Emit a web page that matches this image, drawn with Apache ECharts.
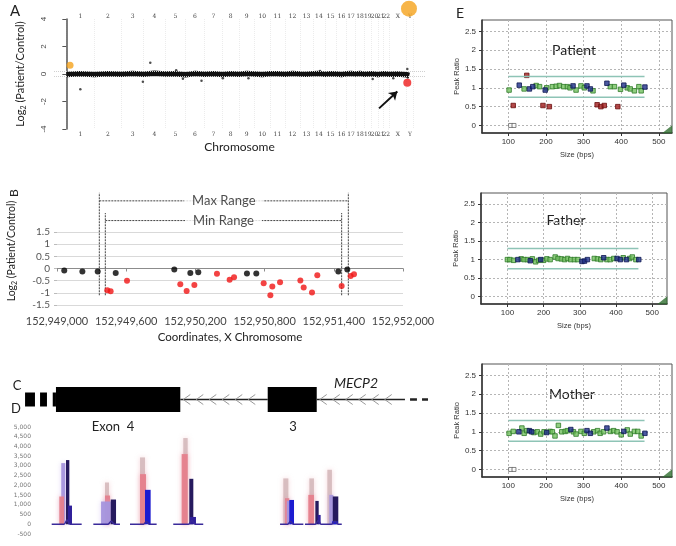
<!DOCTYPE html>
<html>
<head>
<meta charset="utf-8">
<script src="https://cdn.jsdelivr.net/npm/echarts@6/dist/echarts.min.js"></script>
<style>
  html, body { margin: 0; padding: 0; background: #fff; }
  #chart { width: 676px; height: 546px; }
</style>
</head>
<body>
<div id="chart"></div>
<script>
// ---- Panel A: genome-wide log2 ratios (positions in Mb along the genome)
const chromNames = ['1','2','3','4','5','6','7','8','9','10','11','12','13','14','15','16','17','18','19','20','21','22','X','Y'];
const chromSizes = [249.3, 243.2, 198.0, 191.2, 180.9, 171.1, 159.1, 146.4, 141.2, 135.5, 135.0, 133.9, 115.2, 107.3, 102.5, 90.4, 81.2, 78.1, 59.1, 63.0, 48.1, 51.3, 155.3, 59.4];
const genomeBand = [[0,-0.03],[120,0.01],[249,-0.04],[370,0.02],[492,-0.02],[590,0.03],[690,-0.01],[786,0.05],[881,0],[972,0.02],[1062,-0.05],[1150,0.03],[1233,-0.02],[1313,0.01],[1393,-0.03],[1466,0.02],[1539,-0.02],[1610,0.03],[1680,0],[1748,-0.03],[1816,0.02],[1883,0.01],[1951,-0.02],[2018,0.03],[2085,0],[2142,-0.02],[2200,0.02],[2254,0.03],[2307,-0.01],[2358,0.02],[2410,0],[2455,-0.03],[2500,0.02],[2541,0.04],[2581,0],[2620,0.03],[2659,-0.02],[2720,0.01],[2780,-0.03],[2830,0.02],[2881,-0.02],[2958,0],[3036,-0.05],[3060,-0.1]];
const genomeOutliers = [[125,-1.11],[683,-0.56],[749,0.82],[980,0.27],[1040,-0.35],[1206,-0.49],[1396,-0.3],[1625,-0.3],[2264,0.22],[2733,-0.36],[2917,-0.3],[3042,0.36],[3046,-0.25]];
const genomeGain = [[33, 0.63]];
const genomeGainBig = [[3057, 4.75]];
const genomeLoss = [[3042, -0.63]];
const arrowFromTo = [[2790, -2.5], [2953, -1.27]];

// ---- Panel B: probe log2 ratios, X chromosome coordinates
const normalProbes = [[152949063,-0.08],[152949220,-0.125],[152949353,-0.125],[152949509,-0.18],[152950017,-0.04],[152950156,-0.19],[152950225,-0.15],[152950647,-0.21],[152950728,-0.21],[152951439,-0.125],[152951517,-0.04]];
const deletedProbes = [[152949436,-0.89],[152949465,-0.93],[152949607,-0.5],[152950069,-0.65],[152950124,-0.92],[152950191,-0.68],[152950387,-0.22],[152950497,-0.46],[152950535,-0.36],[152950792,-0.61],[152950850,-1.1],[152950867,-0.74],[152950934,-0.56],[152951110,-0.49],[152951139,-0.78],[152951211,-0.99],[152951257,-0.28],[152951468,-0.72],[152951546,-0.31],[152951575,-0.24]];
const maxRange = [152949367, 152951526];
const minRange = [152949419, 152951468];

// ---- Panel C: MECP2 gene model [start, end, kind] kind: 0 small block, 1 exon, 2 intron, 3 dash
const geneParts = [[152948723,152948809,0],[152948853,152948913,0],[152948963,152948991,0],[152948991,152950069,1],[152950069,152950827,2],[152950827,152951252,1],[152951252,152952017,2],[152952061,152952121,3],[152952165,152952217,3]];

// ---- Panel D: read peaks [start, end, height, colour kind]
const peakBars = [
  [152949037,152949072,3144,2],[152949020,152949061,1428,1],[152949078,152949107,3300,3],[152949095,152949130,960,4],
  [152949416,152949451,2148,0],[152949416,152949460,1478,1],[152949382,152949466,1170,2],[152949466,152949512,1273,3],
  [152949720,152949763,3436,0],[152949720,152949772,2577,1],[152949763,152949812,1770,5],
  [152950095,152950133,4433,0],[152950081,152950133,3608,1],[152950147,152950182,2337,3],[152950153,152950205,376,4],
  [152950962,152951006,2357,0],[152950977,152951014,1340,1],[152950994,152951029,1200,2],[152951014,152951055,1250,5],
  [152951188,152951228,2357,0],[152951179,152951228,1510,1],[152951240,152951269,1200,3],[152951260,152951286,480,4],
  [152951344,152951384,2800,0],[152951361,152951396,1510,2],[152951391,152951439,1430,3],[152951384,152951436,150,5]
];
// baseline traces [start, bumpStart, bumpPeakX, bumpEnd, end, bumpHeight]
const peakBaselines = [
  [152948954,152949061,152949087,152949113,152949214,220],
  [152949315,152949440,152949470,152949500,152949546,150],
  [152949633,152949750,152949775,152949800,152949864,150],
  [152950008,152950140,152950170,152950200,152950268,200],
  [152950934,152951000,152951025,152951050,152951136,150],
  [152951150,152951240,152951265,152951290,152951324,200],
  [152951324,152951380,152951410,152951440,152951469,150]
];

// ---- Panel E: MLPA peak ratios vs fragment size (bp)
const patientGreen = [[102,0.94],[142,0.97],[174,1.06],[183,1.03],[202,1.0],[217,1.03],[227,1.04],[236,1.06],[247,1.03],[257,1.03],[264,1.0],[280,0.94],[293,1.05],[302,1.0],[325,0.92],[371,1.03],[382,1.03],[398,0.96],[416,1.0],[424,0.97],[435,0.92],[447,1.03],[453,0.92]];
const patientNavy = [[129,1.07],[156,0.97],[165,1.03],[198,0.94],[272,1.05],[309,1.05],[318,0.97],[362,1.12],[407,1.07],[463,1.02]];
const patientRed = [[113,0.53],[149,1.33],[192,0.53],[209,0.5],[336,0.55],[346,0.5],[355,0.53],[391,0.5]];
const patientCtrl = [[106,0],[115,0]];
const fatherGreen = [[100,1.0],[107,1.0],[117,0.98],[138,1.02],[146,1.0],[155,1.0],[169,1.02],[178,0.94],[186,0.98],[200,0.98],[209,1.02],[218,1.0],[232,1.07],[240,1.03],[249,1.02],[258,1.0],[266,1.03],[275,1.0],[285,1.0],[294,1.0],[340,1.03],[349,1.02],[358,1.0],[375,1.0],[384,1.0],[394,1.03],[420,1.05],[438,1.03],[445,1.07],[455,1.0]];
const fatherNavy = [[129,1.0],[163,0.97],[192,1.0],[306,0.95],[313,0.96],[321,1.0],[366,1.05],[403,1.03],[412,1.0],[429,1.0],[463,1.0]];
const motherGreen = [[102,0.96],[113,1.01],[136,1.1],[142,0.96],[149,1.03],[168,0.98],[177,1.0],[186,0.94],[195,1.0],[211,1.01],[217,1.0],[224,0.89],[233,1.17],[242,1.0],[251,1.01],[257,1.03],[273,1.0],[280,0.94],[293,1.01],[302,0.96],[327,1.0],[337,1.03],[344,0.96],[353,1.0],[371,1.01],[380,1.03],[389,1.0],[400,0.92],[416,1.05],[424,0.94],[435,1.01],[444,1.01],[453,0.89]];
const motherNavy = [[128,1.0],[156,1.03],[162,1.0],[202,0.98],[266,1.06],[309,1.03],[318,0.96],[362,1.1],[407,1.01],[463,0.96]];
const motherCtrl = [[106,0],[115,0]];
const ratioLimits = [1.3, 0.75];
const ratioSpan = [100, 462];
const sizeTicks = [100, 200, 300, 400, 500];
const ratioTicks = [0, 0.5, 1, 1.5, 2, 2.5];

// derived chromosome boundaries / centres
const chromStarts = [];
const chromCenters = [];
let acc = 0;
chromSizes.forEach(s => { chromStarts.push(acc); chromCenters.push(acc + s / 2); acc += s; });
const chromBounds = chromStarts.concat([acc]);
const chromLabel = v => {
  const i = chromCenters.findIndex(c => Math.abs(c - v) < 0.01);
  return i < 0 ? '' : chromNames[i];
};

const sans = 'Lato';
const small = 'Liberation Sans';
const subRich = { s: { fontFamily: sans, fontSize: 7, padding: [6, 0, 0, 0] } };

function renderGene(params, api) {
  const kind = api.value(2);
  const a = api.coord([api.value(0), 0]);
  const b = api.coord([api.value(1), 0]);
  const unit = api.size([0, 1])[1];
  if (kind === 0 || kind === 1) {
    const h = kind === 1 ? 1 : 0.56;
    return { type: 'rect', shape: { x: a[0], y: a[1] - h * unit, width: b[0] - a[0], height: 2 * h * unit }, style: { fill: '#000' } };
  }
  if (kind === 2) {
    const children = [{ type: 'line', shape: { x1: a[0], y1: a[1], x2: b[0], y2: b[1] }, style: { stroke: '#222', lineWidth: 1.5 } }];
    for (let x = a[0] + 3; x + 8 < b[0]; x += 13) {
      children.push({ type: 'polyline', shape: { points: [[x + 7, a[1] - 5], [x, a[1]], [x + 7, a[1] + 5]] }, style: { stroke: '#999', lineWidth: 1, fill: null } });
    }
    return { type: 'group', children };
  }
  return { type: 'line', shape: { x1: a[0], y1: a[1], x2: b[0], y2: b[1] }, style: { stroke: '#222', lineWidth: 2.5 } };
}

const peakColors = [
  { fill: '#d2b6b8', opacity: 0.85, glow: 'rgba(235,170,180,0.6)' },
  { fill: '#e5808c', opacity: 0.95, glow: 'rgba(235,150,165,0.6)' },
  { fill: '#a595dd', opacity: 0.95, glow: 'rgba(190,170,235,0.5)' },
  { fill: '#261a5e', opacity: 1, glow: null },
  { fill: '#30209a', opacity: 1, glow: null },
  { fill: '#1b1bd0', opacity: 1, glow: null }
];
function renderPeak(params, api) {
  const a = api.coord([api.value(0), api.value(2)]);
  const b = api.coord([api.value(1), 0]);
  const c = peakColors[api.value(3)];
  const style = { fill: c.fill, opacity: c.opacity };
  if (c.glow) { style.shadowBlur = 5; style.shadowColor = c.glow; }
  return { type: 'rect', shape: { x: a[0], y: a[1], width: b[0] - a[0], height: b[1] - a[1] }, style };
}

const baselineData = [];
peakBaselines.forEach(b => {
  baselineData.push([b[0], 0], [b[1], 0], [b[2], b[5]], [b[3], 0], [b[4], 0], '-');
});

function rangeLines(r, top, bar) {
  return [[r[0], -1.1], [r[0], top], '-', [r[1], -1.1], [r[1], top], '-', [r[0], bar], [r[1], bar]];
}

// E panel builders
const eGrids = [
  { left: 482, top: 20, width: 190, height: 113 },
  { left: 481, top: 193, width: 186, height: 111 },
  { left: 482, top: 364, width: 190, height: 113 }
];
const eXRange = [[30, 535], [27, 541], [30, 535]];
const eSets = [
  { green: patientGreen, navy: patientNavy, red: patientRed, ctrl: patientCtrl },
  { green: fatherGreen, navy: fatherNavy, red: [], ctrl: [] },
  { green: motherGreen, navy: motherNavy, red: [], ctrl: motherCtrl }
];

const grids = [
  { left: 54, top: 19, width: 371, height: 110 },
  { left: 57, top: 232, width: 346, height: 73 },
  { left: 57, top: 387, width: 346, height: 25 },
  { left: 33, top: 427, width: 370, height: 107 }
].concat(eGrids.map(g => Object.assign({ show: true, borderColor: '#555', borderWidth: 1 }, g)))
 .map(g => Object.assign({ outerBoundsMode: 'none', containLabel: false }, g));

const xAxes = [
  { gridIndex: 0, type: 'value', min: -110, max: 3200, position: 'bottom',
    axisLine: { show: false, onZero: false }, axisTick: { show: false, customValues: chromBounds },
    axisLabel: { customValues: chromCenters, formatter: chromLabel, fontSize: 6, fontFamily: 'DejaVu Serif', color: '#444', margin: 2 },
    splitLine: { show: true, lineStyle: { color: '#ececec', type: 'dotted' } },
    name: 'Chromosome', nameLocation: 'middle', nameGap: 12, nameTextStyle: { fontFamily: sans, fontSize: 12, color: '#222' } },
  { gridIndex: 0, type: 'value', min: -110, max: 3200, position: 'top',
    axisLine: { show: false, onZero: false }, axisTick: { show: false },
    axisLabel: { customValues: chromCenters, formatter: chromLabel, fontSize: 6, fontFamily: 'DejaVu Serif', color: '#444', margin: 0 },
    splitLine: { show: false } },
  { gridIndex: 1, type: 'value', min: 152949000, max: 152952000, interval: 600, position: 'top',
    axisLine: { onZero: true, lineStyle: { color: '#8c8c8c', width: 1 } },
    axisTick: { inside: true, length: 3, lineStyle: { color: '#8c8c8c' } },
    axisLabel: { show: false }, splitLine: { show: false } },
  { gridIndex: 1, type: 'value', min: 152949000, max: 152952000, interval: 600, position: 'bottom',
    axisLine: { show: false, onZero: false }, axisTick: { show: false },
    axisLabel: { formatter: v => v.toLocaleString('en-US'), fontFamily: sans, fontSize: 11, color: '#444', margin: 11 },
    splitLine: { show: false },
    name: 'Coordinates, X Chromosome', nameLocation: 'middle', nameGap: 26, nameTextStyle: { fontFamily: sans, fontSize: 11.5, color: '#222' } },
  { gridIndex: 2, type: 'value', min: 152949000, max: 152952000, show: false },
  { gridIndex: 3, type: 'value', min: 152948792, max: 152952000, show: false }
].concat(eGrids.map((g, i) => ({
  gridIndex: 4 + i, type: 'value', min: eXRange[i][0], max: eXRange[i][1], position: 'bottom',
  axisLine: { onZero: false, lineStyle: { color: '#333', width: 1.5 } },
  axisTick: { customValues: sizeTicks, length: 3, lineStyle: { color: '#333' } },
  axisLabel: { customValues: sizeTicks, fontFamily: small, fontSize: 8, color: '#333', margin: 5 },
  splitLine: { show: true, lineStyle: { color: '#b5b5b5', type: [2, 2] } },
  name: 'Size (bps)', nameLocation: 'middle', nameGap: 18, nameTextStyle: { fontFamily: small, fontSize: 7.5, color: '#333' }
})));

const yAxes = [
  { gridIndex: 0, type: 'value', min: -4, max: 4, interval: 2,
    axisLine: { show: true, lineStyle: { color: '#555', width: 1.5 } },
    axisTick: { show: true, length: 4, lineStyle: { color: '#555' } },
    axisLabel: { rotate: 90, fontSize: 8, color: '#444', margin: 6 },
    splitLine: { show: false },
    name: 'Log{s|2} (Patient/Control)', nameLocation: 'middle', nameGap: 27,
    nameTextStyle: { fontFamily: sans, fontSize: 11, color: '#222', rich: subRich } },
  { gridIndex: 1, type: 'value', min: -1.5, max: 1.5, interval: 0.5,
    axisLine: { show: false }, axisTick: { show: true, length: 3, lineStyle: { color: '#bbb' } },
    axisLabel: { fontFamily: sans, fontSize: 10, color: '#555', margin: 7 },
    splitLine: { lineStyle: { color: '#d9d9d9' } } },
  { gridIndex: 2, type: 'value', min: -1, max: 1, show: false },
  { gridIndex: 3, type: 'value', min: -500, max: 5000, interval: 500,
    axisLine: { show: false }, axisTick: { show: false },
    axisLabel: { formatter: v => v.toLocaleString('en-US'), fontFamily: 'DejaVu Sans', fontSize: 6, color: '#777', margin: 2 },
    splitLine: { show: false } }
].concat(eGrids.map((g, i) => ({
  gridIndex: 4 + i, type: 'value', min: -0.2, max: 2.8,
  axisLine: { onZero: false, lineStyle: { color: '#333', width: 1.5 } },
  axisTick: { customValues: ratioTicks, length: 3, lineStyle: { color: '#333' } },
  axisLabel: { customValues: ratioTicks, fontFamily: small, fontSize: 8, color: '#333', margin: 6 },
  splitLine: { show: true, lineStyle: { color: '#b5b5b5', type: [2, 2] } },
  name: 'Peak Ratio', nameLocation: 'middle', nameGap: 10, nameTextStyle: { fontFamily: small, fontSize: 7.5, color: '#333' }
})));

const series = [
  // A
  { type: 'line', xAxisIndex: 0, yAxisIndex: 0, data: genomeBand, showSymbol: false, lineStyle: { color: '#111', width: 5.5 }, z: 3,
    markLine: { silent: true, symbol: 'none', label: { show: false }, lineStyle: { color: '#d0d0d0', type: 'dotted', width: 1 },
      data: [{ yAxis: 0.17 }, { yAxis: -0.17 }] } },
  { type: 'scatter', xAxisIndex: 0, yAxisIndex: 0, data: genomeOutliers, symbolSize: 2.5, itemStyle: { color: '#222' } },
  { type: 'scatter', xAxisIndex: 0, yAxisIndex: 0, data: genomeGain, symbolSize: 7, itemStyle: { color: '#f5a21b' } },
  { type: 'scatter', xAxisIndex: 0, yAxisIndex: 0, data: genomeGainBig, symbolSize: 16, clip: false, itemStyle: { color: '#f5a21b' } },
  { type: 'scatter', xAxisIndex: 0, yAxisIndex: 0, data: genomeLoss, symbolSize: 8, z: 4, itemStyle: { color: '#ee1c1c' },
    markLine: { silent: true, symbol: ['none', 'arrow'], symbolSize: 8, label: { show: false }, lineStyle: { color: '#111', width: 2, type: 'solid' },
      data: [[{ coord: arrowFromTo[0] }, { coord: arrowFromTo[1] }]] } },
  // B
  { type: 'line', xAxisIndex: 2, yAxisIndex: 1, data: rangeLines(maxRange, 3.11, 2.78), clip: false, showSymbol: false,
    lineStyle: { color: '#444', width: 1, type: [2, 1] } },
  { type: 'line', xAxisIndex: 2, yAxisIndex: 1, data: rangeLines(minRange, 2.28, 1.97), clip: false, showSymbol: false,
    lineStyle: { color: '#444', width: 1, type: [2, 1] } },
  { type: 'scatter', xAxisIndex: 2, yAxisIndex: 1, clip: false, symbolSize: 0, z: 5,
    data: [[(maxRange[0] + maxRange[1]) / 2, 2.78, 'Max Range'], [(minRange[0] + minRange[1]) / 2, 1.97, 'Min Range']],
    label: { show: true, position: 'inside', formatter: p => p.value[2], fontFamily: sans, fontSize: 13, color: '#222', backgroundColor: '#fff', padding: [0, 8] } },
  { type: 'scatter', xAxisIndex: 2, yAxisIndex: 1, data: normalProbes, symbolSize: 6, itemStyle: { color: '#000' }, z: 4 },
  { type: 'scatter', xAxisIndex: 2, yAxisIndex: 1, data: deletedProbes, symbolSize: 6, itemStyle: { color: '#f01414' }, z: 4 },
  // C
  { type: 'custom', xAxisIndex: 4, yAxisIndex: 2, data: geneParts, renderItem: renderGene, clip: false, silent: true },
  // D
  { type: 'custom', xAxisIndex: 5, yAxisIndex: 3, data: peakBars, renderItem: renderPeak, silent: true },
  { type: 'line', xAxisIndex: 5, yAxisIndex: 3, data: baselineData, showSymbol: false, smooth: 0.3, lineStyle: { color: '#3a2a9a', width: 1.5 } }
];

eSets.forEach((set, i) => {
  const xi = 6 + i, yi = 4 + i;
  series.push(
    { type: 'line', xAxisIndex: xi, yAxisIndex: yi, showSymbol: false, lineStyle: { color: '#8ec4b6', width: 1.5 },
      data: [[ratioSpan[0], ratioLimits[0]], [ratioSpan[1], ratioLimits[0]], '-', [ratioSpan[0], ratioLimits[1]], [ratioSpan[1], ratioLimits[1]]] },
    { type: 'scatter', xAxisIndex: xi, yAxisIndex: yi, data: set.green, symbol: 'rect', symbolSize: 4.5, itemStyle: { color: '#74c260', borderColor: '#2e7a28', borderWidth: 1 } },
    { type: 'scatter', xAxisIndex: xi, yAxisIndex: yi, data: set.navy, symbol: 'rect', symbolSize: 4.5, itemStyle: { color: '#1f2f8a', borderColor: '#0e1850', borderWidth: 1 } },
    { type: 'scatter', xAxisIndex: xi, yAxisIndex: yi, data: set.red, symbol: 'rect', symbolSize: 4.5, itemStyle: { color: '#a01c1c', borderColor: '#6b1010', borderWidth: 1 } },
    { type: 'scatter', xAxisIndex: xi, yAxisIndex: yi, data: set.ctrl, symbol: 'rect', symbolSize: 4, itemStyle: { color: '#fff', borderColor: '#666', borderWidth: 1 } },
    { type: 'scatter', xAxisIndex: xi, yAxisIndex: yi, data: [[eXRange[i][1] - 13, -0.1]], symbol: 'path://M0,10L10,0L10,10Z', symbolSize: [10, 8], clip: false, itemStyle: { color: '#2f6e2f' } }
  );
});

const txt = (text, x, y, size, extra) => ({
  type: 'text', x, y, silent: true,
  style: Object.assign({ text, fontFamily: sans, fontSize: size, fill: '#222', align: 'center', verticalAlign: 'middle' }, extra || {})
});

const chart = echarts.init(document.getElementById('chart'));
chart.setOption({
  backgroundColor: '#fff',
  animation: false,
  grid: grids,
  xAxis: xAxes,
  yAxis: yAxes,
  series: series,
  graphic: [
    txt('A', 15, 11, 15),
    Object.assign(txt('B', 14, 193, 12), { rotation: Math.PI / 2 }),
    Object.assign(txt('Log{s|2} (Patient/Control)', 12, 251, 10.5, { rich: subRich }), { rotation: Math.PI / 2 }),
    txt('C', 17, 386, 13),
    txt('D', 16, 409, 13),
    txt('E', 460, 13, 14),
    txt('Patient', 574, 50, 14),
    txt('Father', 566, 220, 14),
    txt('Mother', 572, 394, 14),
    txt('Exon  4', 113, 427, 13),
    txt('3', 293, 427, 13),
    txt('MECP2', 356, 383, 14, { fontStyle: 'italic' })
  ]
});
</script>
</body>
</html>
